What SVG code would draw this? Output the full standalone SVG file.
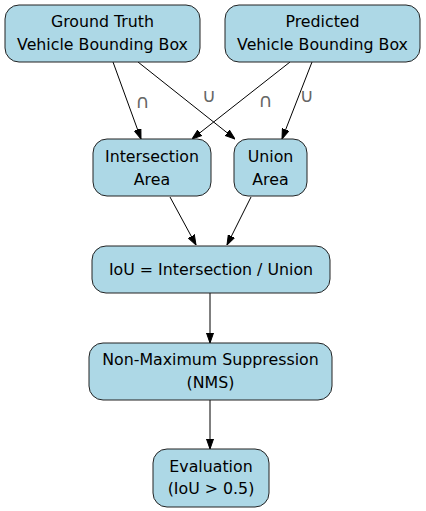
<svg xmlns="http://www.w3.org/2000/svg" width="426" height="511" viewBox="0 0 426 511">
<style>
.n{fill:#add8e6;stroke:#222;stroke-width:1}
.t{font-family:"DejaVu Sans",Verdana,sans-serif;font-size:15.8px;fill:#000;text-anchor:middle}
.l{font-family:"DejaVu Sans",sans-serif;font-size:19px;fill:#666;text-anchor:middle}
.e{stroke:#000;stroke-width:1;fill:none}
</style>
<defs>
<marker id="a" markerWidth="10" markerHeight="8" refX="10" refY="4" orient="auto" markerUnits="userSpaceOnUse" viewBox="0 0 10 8">
<path d="M0,0.5 L10,4 L0,7.5 z" fill="#000" stroke="#000" stroke-width="1"/>
</marker>
</defs>
<rect width="426" height="511" fill="#fff"/>
<g id="edges">
<line class="e" x1="113" y1="62" x2="141" y2="139" marker-end="url(#a)"/>
<text class="l" x="142.5" y="108">∩</text>
<line class="e" x1="138" y1="62" x2="235" y2="139" marker-end="url(#a)"/>
<text class="l" x="209" y="102">∪</text>
<line class="e" x1="290" y1="62" x2="192" y2="139" marker-end="url(#a)"/>
<text class="l" x="265.5" y="107">∩</text>
<line class="e" x1="312" y1="62" x2="282" y2="139" marker-end="url(#a)"/>
<text class="l" x="306.7" y="102">∪</text>
<line class="e" x1="170" y1="197" x2="196" y2="245" marker-end="url(#a)"/>
<line class="e" x1="251" y1="197" x2="227" y2="245" marker-end="url(#a)"/>
<line class="e" x1="210" y1="293" x2="210" y2="343" marker-end="url(#a)"/>
<line class="e" x1="210" y1="400" x2="210" y2="449" marker-end="url(#a)"/>
</g>
<g id="gt">
<rect class="n" x="5" y="5" width="195" height="57" rx="14"/>
<text class="t" x="102.5" y="27">Ground Truth</text>
<text class="t" x="102.5" y="50">Vehicle Bounding Box</text>
</g>
<g id="pred">
<rect class="n" x="225" y="5" width="195" height="57" rx="14"/>
<text class="t" x="322.5" y="27">Predicted</text>
<text class="t" x="322.5" y="50">Vehicle Bounding Box</text>
</g>
<g id="inter">
<rect class="n" x="93" y="139" width="118" height="57" rx="14"/>
<text class="t" x="152" y="162">Intersection</text>
<text class="t" x="152" y="185">Area</text>
</g>
<g id="union">
<rect class="n" x="234" y="139" width="73" height="57" rx="14"/>
<text class="t" x="270.5" y="162">Union</text>
<text class="t" x="270.5" y="185">Area</text>
</g>
<g id="iou">
<rect class="n" x="92" y="246" width="238" height="47" rx="14"/>
<text class="t" x="211" y="275">IoU = Intersection / Union</text>
</g>
<g id="nms">
<rect class="n" x="89" y="343" width="243" height="57" rx="14"/>
<text class="t" x="210.5" y="365">Non-Maximum Suppression</text>
<text class="t" x="210.5" y="388">(NMS)</text>
</g>
<g id="eval">
<rect class="n" x="153" y="449" width="116" height="58" rx="14"/>
<text class="t" x="211" y="472">Evaluation</text>
<text class="t" x="211" y="494">(IoU &gt; 0.5)</text>
</g>
</svg>
